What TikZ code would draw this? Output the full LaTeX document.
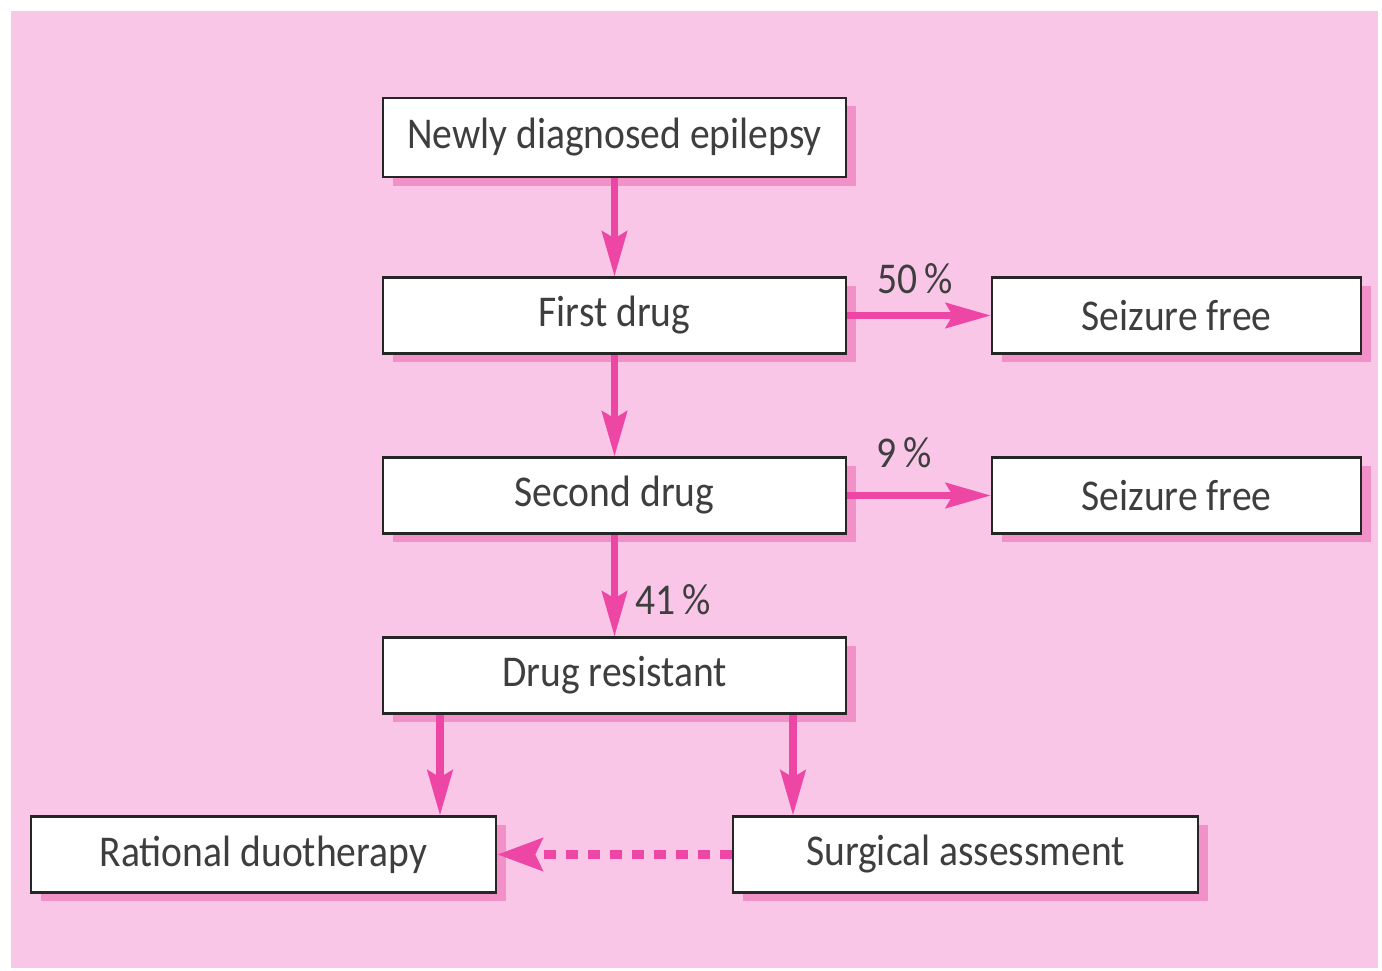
\documentclass[tikz,border=0pt]{standalone}
\usepackage{fontspec}
\setmainfont{Carlito}[FakeStretch=0.9]
\usetikzlibrary{arrows.meta,shadows}
\definecolor{bgpink}{RGB}{249,198,232}
\definecolor{shpink}{RGB}{242,145,200}
\definecolor{arrpink}{RGB}{238,70,165}
\definecolor{txtgray}{RGB}{62,62,62}
\begin{document}
\begin{tikzpicture}[x=0.01cm,y=-0.01cm,
  box/.style={draw=black!85, line width=0.6pt, fill=white,
    minimum width=4.63cm, minimum height=0.76cm, inner sep=0pt,
    text=txtgray, font=\fontsize{12.5}{14}\selectfont,
    drop shadow={shadow xshift=0.1cm, shadow yshift=-0.085cm, fill=shpink, opacity=1}},
  arr/.style={draw=arrpink, line width=2pt,
    -{Stealth[length=0.45cm,width=0.25cm,inset=0.07cm,fill=arrpink]}},
  dotarr/.style={draw=arrpink, line width=2.6pt, dash pattern=on 0.12cm off 0.1cm,
    -{Stealth[length=0.45cm,width=0.32cm,inset=0.07cm,fill=arrpink,sep=0pt]}},
  pct/.style={text=txtgray, font=\fontsize{12.5}{14}\selectfont, inner sep=0pt}]
\useasboundingbox (0,0) rectangle (1382,971);
\fill[white] (0,0) rectangle (1382,971);
\fill[bgpink] (11,11) rectangle (1378,968);

\node[box, minimum height=0.79cm] (nd) at (614.5,137.5) {Newly diagnosed epilepsy};
\node[box] (fd) at (614.5,315.5) {First drug};
\node[box, minimum width=3.69cm] (sf1) at (1176.5,315.5) {Seizure free};
\node[box] (sd) at (614.5,495.5) {Second drug};
\node[box, minimum width=3.69cm] (sf2) at (1176.5,495.5) {Seizure free};
\node[box] (dr) at (614.5,675.5) {Drug resistant};
\node[box, minimum width=4.65cm] (rd) at (263.5,854.5) {Rational duotherapy};
\node[box, minimum width=4.65cm] (sa) at (965.5,854.5) {Surgical assessment};

\coordinate (xl) at (440,0);
\coordinate (xr) at (793,0);

\draw[arr] (nd.south) -- (fd.north);
\draw[arr] (fd.south) -- (sd.north);
\draw[arr] (sd.south) -- (dr.north);
\draw[arr] (fd.east) -- (sf1.west);
\draw[arr] (sd.east) -- (sf2.west);
\draw[arr] (dr.south -| xl) -- (rd.north -| xl);
\draw[arr] (dr.south -| xr) -- (sa.north -| xr);
\draw[dotarr] (sa.west) -- (rd.east);

\node[pct] (p50) at (915,279) {50\,\%};
\node[pct] (p9) at (904,453) {9\,\%};
\node[pct] (p41) at (673,600) {41\,\%};
\end{tikzpicture}
\end{document}
